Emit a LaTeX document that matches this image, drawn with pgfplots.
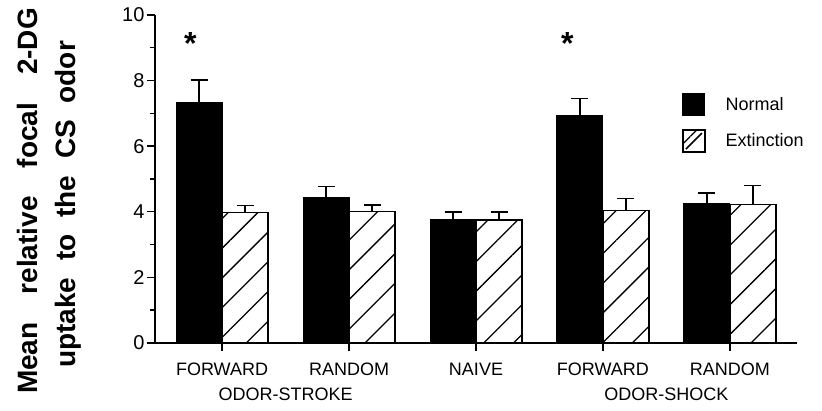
\documentclass[border=0pt]{standalone}
\usepackage{pgfplots}
\pgfplotsset{compat=1.18}
\usepackage{fontspec}
\setmainfont{Liberation Sans}
\usetikzlibrary{patterns.meta}

\begin{document}
\begin{tikzpicture}[x=1pt,y=1pt]
\begin{axis}[
  at={(155pt,68pt)}, anchor=south west,
  width=642pt, height=328pt, scale only axis,
  ybar=0pt, bar width=46pt,
  xmin=-0.528, xmax=4.528, ymin=0, ymax=10,
  axis lines*=left,
  axis line style={line width=1.6pt},
  xtick={0,1,2,3,4},
  xticklabels={FORWARD,RANDOM,NAIVE,FORWARD,RANDOM},
  ytick={0,2,4,6,8,10},
  minor ytick={1,3,5,7,9},
  tick align=outside,
  major tick length=8pt, minor tick length=5pt,
  tick style={line width=1.4pt, black},
  ticklabel style={font=\fontsize{18}{18}\selectfont},
  /pgf/number format/assume math mode=true,
  xticklabel style={anchor=base, yshift=-25pt},
  yticklabel style={font=\fontsize{20}{20}\selectfont, xshift=1pt},
  clip=false,
  legend style={draw=none, fill=none, at={(0.816,0.768)}, anchor=north west,
    font=\fontsize{18}{18}\selectfont, row sep=13pt,
    /tikz/every odd column/.append style={column sep=18pt}},
  legend cell align=left,
]
\addplot[fill=black, draw=black, line width=1pt,
  legend image code/.code={\draw[fill=black,draw=black,line width=1pt] (0pt,-11pt) rectangle (22pt,11pt);},
  error bars/y dir=plus, error bars/y explicit,
  error bars/error mark=|,
  error bars/error bar style={line width=1.6pt, black},
  error bars/error mark options={line width=1.6pt, mark size=8.5pt, black}]
coordinates {(0,7.32) +- (0,0.70) (1,4.43) +- (0,0.34) (2,3.77) +- (0,0.23) (3,6.95) +- (0,0.51) (4,4.24) +- (0,0.34)};
\addlegendentry{Normal}
\addplot[draw=black, line width=1.3pt, pattern={Lines[angle=45,distance=21pt,line width=1.3pt]},
  legend image code/.code={\draw[draw=black,line width=1.6pt] (0pt,-11pt) rectangle (22pt,11pt); \draw[line width=1.6pt] (3pt,-8pt) -- (19pt,8pt);},
  error bars/y dir=plus, error bars/y explicit,
  error bars/error mark=|,
  error bars/error bar style={line width=1.6pt, black},
  error bars/error mark options={line width=1.6pt, mark size=8.5pt, black}]
coordinates {(0,3.97) +- (0,0.22) (1,4.00) +- (0,0.20) (2,3.75) +- (0,0.25) (3,4.03) +- (0,0.38) (4,4.23) +- (0,0.57)};
\addlegendentry{Extinction}
\node[anchor=base, font=\fontsize{18}{18}\selectfont] at ([yshift=-58pt]axis cs:0.5,0) {ODOR-STROKE};
\node[anchor=base, font=\fontsize{18}{18}\selectfont] at ([yshift=-58pt]axis cs:3.5,0) {ODOR-SHOCK};
\node[anchor=north, inner sep=0pt, font=\fontsize{32}{32}\selectfont\bfseries] at (axis cs:-0.25,9.48) {*};
\node[anchor=north, inner sep=0pt, font=\fontsize{32}{32}\selectfont\bfseries] at (axis cs:2.72,9.48) {*};
\end{axis}
\node[rotate=90, anchor=base, inner sep=0pt, font=\fontsize{28}{28}\selectfont\bfseries] at (37,210) {\makebox[386pt][s]{Mean\hfill relative\hfill focal\hfill 2-DG}};
\node[rotate=90, anchor=base, inner sep=0pt, font=\fontsize{28}{28}\selectfont\bfseries] at (75,206.5) {\makebox[327pt][s]{uptake\hfill to\hfill the\hfill CS\hfill odor}};
\pgfresetboundingbox
\path (0,0) rectangle (822,411);
\end{tikzpicture}
\end{document}
